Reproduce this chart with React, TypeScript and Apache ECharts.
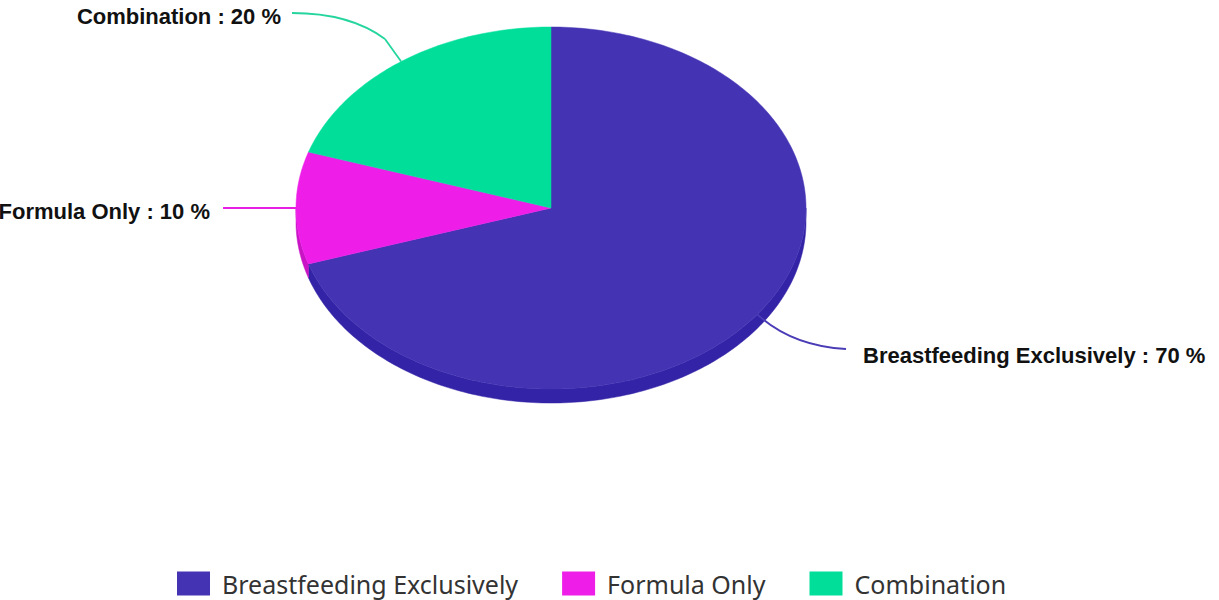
import React, { useEffect, useRef } from "react";
import * as echarts from "echarts";

const categories = ["Breastfeeding Exclusively", "Formula Only", "Combination"];
const values = [70, 10, 20];
const topColors = ["#4434B4", "#EE1EE8", "#00DE9A"];
const sideColors = ["#3323A6", "#C914C6", "#00B47E"];
const lineColors = ["#4A3CB6", "#E620E2", "#25D59E"];

// layout (not data)
const CX = 551;
const CY = 208;
const RX = 255;
const RY = 181;
const DEPTH = 14;
const labelLayout = [
  { cp: [792, 346], end: [846, 349], text: [863, 355], align: "left" },
  { cp: [260, 208], end: [223, 208], text: [210, 211], align: "right" },
  { cp: [350, 13], end: [292, 13], text: [281, 16], align: "right", elbow: [385, 39] },
];

function pt(theta: number, dy = 0): number[] {
  return [CX + RX * Math.cos(theta), CY - RY * Math.sin(theta) + dy];
}

function arcPoints(a: number, b: number, dy = 0): number[][] {
  const n = Math.max(8, Math.ceil(Math.abs(b - a) / (Math.PI / 180)));
  const pts: number[][] = [];
  for (let i = 0; i <= n; i++) pts.push(pt(a + ((b - a) * i) / n, dy));
  return pts;
}

const total = values.reduce((s, v) => s + v, 0);

function renderSlice(params: any, api: any) {
  const idx = params.seriesIndex;
  const val = api.value(0);
  let cum = 0;
  for (let i = 0; i < idx; i++) cum += values[i];
  const start = Math.PI / 2 - (cum / total) * 2 * Math.PI;
  const end = Math.PI / 2 - ((cum + val) / total) * 2 * Math.PI;
  const children: any[] = [];

  // side wall: portion of arc in lower half
  const segs: [number, number][] = [];
  const ranges = [[-Math.PI, 0], [-3 * Math.PI, -2 * Math.PI], [Math.PI, 2 * Math.PI]];
  for (const r of ranges) {
    const hi = Math.min(start, r[1]);
    const lo = Math.max(end, r[0]);
    if (hi > lo) segs.push([hi, lo]);
  }
  for (const s of segs) {
    const top = arcPoints(s[0], s[1], 0);
    const bot = arcPoints(s[1], s[0], DEPTH);
    children.push({
      type: "polygon",
      shape: { points: top.concat(bot) },
      style: { fill: sideColors[idx], stroke: sideColors[idx], lineWidth: 0.5 },
      z2: 1,
    });
  }

  // top face
  const face = [[CX, CY]].concat(arcPoints(start, end, 0));
  children.push({
    type: "polygon",
    shape: { points: face },
    style: { fill: topColors[idx], stroke: topColors[idx], lineWidth: 0.5 },
    z2: 2,
  });

  // label line
  const mid = (start + end) / 2;
  const anchor = pt(mid);
  const lay: any = labelLayout[idx];
  let from = anchor;
  if (lay.elbow) {
    children.push({
      type: "line",
      shape: { x1: anchor[0], y1: anchor[1], x2: lay.elbow[0], y2: lay.elbow[1] },
      style: { stroke: lineColors[idx], lineWidth: 1.8 },
      z2: 3,
    });
    from = lay.elbow;
  }
  children.push({
    type: "bezierCurve",
    shape: {
      x1: from[0], y1: from[1],
      x2: lay.end[0], y2: lay.end[1],
      cpx1: lay.cp[0], cpy1: lay.cp[1],
    },
    style: { stroke: lineColors[idx], lineWidth: 1.8, fill: "none" },
    z2: 3,
  });
  children.push({
    type: "text",
    x: lay.text[0],
    y: lay.text[1],
    style: {
      text: `${categories[idx]} : ${val} %`,
      fill: "#111",
      fontFamily: "Liberation Sans",
      fontWeight: "bold",
      fontSize: 22,
      align: lay.align,
      verticalAlign: "middle",
    },
    z2: 4,
  });
  return { type: "group", children };
}

export default function App() {
  const ref = useRef<HTMLDivElement>(null);
  useEffect(() => {
    document.body.style.margin = "0";
    const chart = echarts.init(ref.current!, null, { renderer: "svg" });
    chart.setOption({
      animation: false,
      legend: {
        data: categories,
        top: 571,
        left: 177,
        padding: 0,
        icon: "rect",
        itemWidth: 33,
        itemHeight: 24,
        itemGap: 44,
        textStyle: {
          fontSize: 25,
          color: "#333",
          fontFamily: "Noto Sans",
          padding: [0, 0, 0, 7],
        },
        selectedMode: false,
      },
      series: categories.map((name, i) => ({
        type: "custom",
        name,
        coordinateSystem: "none",
        itemStyle: { color: topColors[i] },
        data: [[values[i]]],
        renderItem: renderSlice,
        silent: true,
      })),
    });
    return () => chart.dispose();
  }, []);
  return <div ref={ref} style={{ width: 1219, height: 600 }} />;
}
